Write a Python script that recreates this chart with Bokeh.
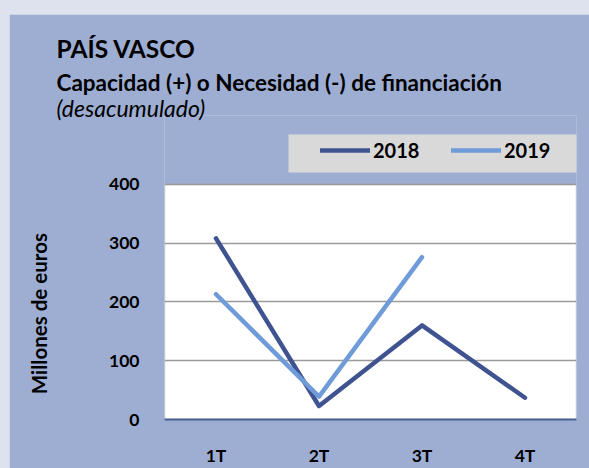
from bokeh.plotting import figure
from bokeh.models import (Range1d, FactorRange, FixedTicker, Legend, LegendItem, Title,
                          BoxAnnotation)
from bokeh.embed import file_html
from bokeh.resources import INLINE

# ---- data ----
quarters = ["1T", "2T", "3T", "4T"]
values_2018 = [308, 23, 160, 37]
quarters_2019 = ["1T", "2T", "3T"]
values_2019 = [213, 39, 276]
y_ticks = [0, 100, 200, 300, 400]
y_min, y_max = 0, 400

title_text = "PAÍS VASCO"
subtitle_text = "Capacidad (+) o Necesidad (-) de financiación"
note_text = "(desacumulado)"
y_label = "Millones de euros"

# ---- style ----
FONT = "Lato"
PANEL = "#9eaed3"
OUTER = "#dee2ef"
C2018 = "#3f5391"
C2019 = "#6f9bd8"

W, H = 580, 454
FRAME_TOP, FRAME_BOTTOM = 101, 406        # canvas pixels
PLOT_TOP = 170                            # canvas pixel of the value 400
y_top = y_max * (FRAME_BOTTOM - FRAME_TOP) / (FRAME_BOTTOM - PLOT_TOP)

p = figure(width=W, height=H, x_range=FactorRange(factors=quarters, range_padding=0),
           y_range=Range1d(y_min, y_top), output_backend="svg", toolbar_location=None,
           title_location=None,
           min_border_left=155, min_border_right=13, min_border_top=FRAME_TOP,
           min_border_bottom=H - FRAME_BOTTOM)
p.border_fill_color = PANEL
p.background_fill_color = PANEL
p.outline_line_color = None

# white plotting area (0..400)
area = BoxAnnotation(bottom=y_min, top=y_max, fill_color="white", fill_alpha=1,
                     line_color="#a8a8a8", line_width=2, level="image")
p.add_layout(area)

r18 = p.line(x=quarters, y=values_2018, line_width=4.5, line_color=C2018,
             line_cap="round", line_join="round")
r19 = p.line(x=quarters_2019, y=values_2019, line_width=4.5, line_color=C2019,
             line_cap="round", line_join="round")

# axes
p.yaxis.ticker = FixedTicker(ticks=y_ticks)
p.yaxis.bounds = (y_min, y_max)
for ax in (p.xaxis[0], p.yaxis[0]):
    ax.major_tick_line_color = None
    ax.minor_tick_line_color = None
    ax.major_label_text_font = FONT
    ax.major_label_text_font_style = "bold"
    ax.major_label_text_font_size = "17.5px"
    ax.major_label_text_color = "black"
p.xaxis.axis_line_color = "#4a5f94"
p.xaxis.axis_line_width = 2
p.xaxis.major_label_standoff = 19
p.yaxis.axis_line_color = None
p.yaxis.major_label_standoff = 19
# trailing spaces lower the centred label to the middle of the 0-400 area
p.yaxis.axis_label = y_label + "\u2003" * 6
p.yaxis.axis_label_text_font = FONT
p.yaxis.axis_label_text_font_style = "bold"
p.yaxis.axis_label_text_font_size = "20.5px"
p.yaxis.axis_label_text_color = "black"
p.yaxis.axis_label_standoff = 55

p.xgrid.grid_line_color = None
p.ygrid.grid_line_color = "#9a9a9a"
p.ygrid.grid_line_width = 1.5

# legend box + legend (inside the extended frame)
p.add_layout(BoxAnnotation(left=279, right=569, top=120, bottom=158,
                           left_units="canvas", right_units="canvas",
                           top_units="canvas", bottom_units="canvas",
                           fill_color="#d9d9d9", fill_alpha=1, line_color=None))
legend = Legend(items=[LegendItem(label="2018", renderers=[r18]),
                       LegendItem(label="2019", renderers=[r19])],
                location=(156, 257), orientation="horizontal",
                glyph_width=50, glyph_height=20, label_height=20, label_width=50,
                label_standoff=3, spacing=28, padding=0, margin=0,
                background_fill_alpha=0, border_line_color=None,
                label_text_font=FONT, label_text_font_style="bold",
                label_text_font_size="20px", label_text_color="black")
p.add_layout(legend)

# titles (first added = nearest the frame)
note_title = Title(text=note_text, align="left", offset=-108, text_font=FONT,
                   text_font_style="italic", text_font_size="23px",
                   text_color="black", standoff=4)
try:
    note_title.standoff = -12
except Exception:
    note_title.standoff = 0
p.add_layout(note_title, "above")
p.add_layout(Title(text=subtitle_text, align="left", offset=-108, text_font=FONT,
                   text_font_style="bold", text_font_size="22.5px",
                   text_color="black", standoff=4), "above")
p.add_layout(Title(text=title_text, align="left", offset=-108, text_font=FONT,
                   text_font_style="bold", text_font_size="24.5px",
                   text_color="black", standoff=4), "above")

html = file_html(p, INLINE, title="País Vasco")
html = html.replace("</head>",
                    "<style>html,body{margin:0;padding:0;background:%s;overflow:hidden;}"
                    "body{padding:14px 0 0 9px;}</style></head>" % OUTER, 1)
open("out.html", "w").write(html)
